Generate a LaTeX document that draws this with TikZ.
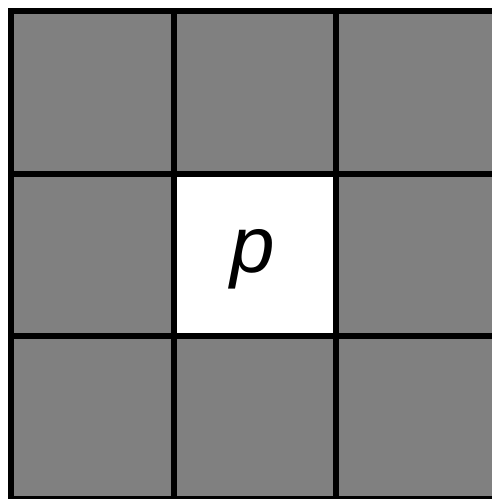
\documentclass[tikz,border=0pt]{standalone}
\usepackage{fontspec}
\setmainfont{Liberation Sans}
\definecolor{cellgray}{HTML}{808080}
\begin{document}
\begin{tikzpicture}[x=1pt,y=-1pt,
  cell/.style={draw=black,line width=6pt,fill=cellgray,minimum width=162.5pt,minimum height=162.5pt,inner sep=0pt,outer sep=0pt},
  centercell/.style={cell,fill=white},
  lbl/.style={font=\fontsize{80}{90}\selectfont\itshape,inner sep=0pt}]
\useasboundingbox (0,0) rectangle (492,499);
\node[cell] (c11) at (92.25,92.25) {};
\node[cell] (c12) at (254.75,92.25) {};
\node[cell] (c13) at (417.25,92.25) {};
\node[cell] (c21) at (92.25,254.75) {};
\node[centercell] (c22) at (254.75,254.75) {};
\node[cell] (c23) at (417.25,254.75) {};
\node[cell] (c31) at (92.25,417.25) {};
\node[cell] (c32) at (254.75,417.25) {};
\node[cell] (c33) at (417.25,417.25) {};
\node[lbl] (p) at (253,259) {p};
\end{tikzpicture}
\end{document}
